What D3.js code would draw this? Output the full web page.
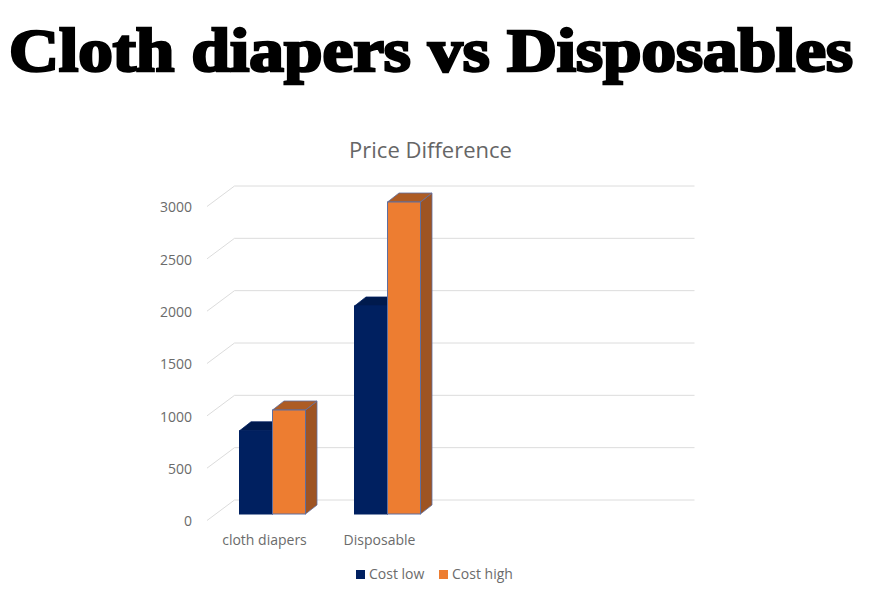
<!DOCTYPE html>
<html>
<head>
<meta charset="utf-8">
<script src="https://cdn.jsdelivr.net/npm/d3@7"></script>
<style>
  html, body { margin: 0; padding: 0; background: #fff; }
  svg { display: block; }
  text { font-family: "Open Sans", sans-serif; fill: #6b6b6b; }
</style>
</head>
<body>
<svg id="chart" width="869" height="592"></svg>
<script>
var categories = ["cloth diapers", "Disposable"];
var seriesNames = ["Cost low", "Cost high"];
var costLow = [800, 2000];
var costHigh = [1000, 3000];
var yTicks = [0, 500, 1000, 1500, 2000, 2500, 3000];

var colours = {
  "Cost low": { front: "#002060", top: "#001a4d", side: "#001a4d", edge: "#002060" },
  "Cost high": { front: "#ed7d31", top: "#ad5c25", side: "#9e5423", edge: "#5f6f9f" }
};

var svg = d3.select("#chart");

// front edge of the floor, the walls sit depth px behind it
var left = 207, floorWidth = 460;
var depthX = 27.5, depthY = 20.5;
var barDepthX = 11.5, barDepthY = 9;

var y = d3.scaleLinear().domain([0, 3000]).range([520.5, 206.5]);
var yBar = d3.scaleLinear().domain([0, 3000]).range([514, 202]);

// two of the four category slots are filled, the rest of the floor stays empty
var x = d3.scaleBand().domain(categories).range([left, left + floorWidth / 2]);
var xSeries = d3.scaleBand().domain(seriesNames).range([0, 66]);

svg.append("text")
  .attr("x", 9)
  .attr("y", 71)
  .attr("textLength", 844)
  .attr("lengthAdjust", "spacingAndGlyphs")
  .style("font-family", "'Liberation Serif', serif")
  .style("font-weight", "bold")
  .style("font-size", "61px")
  .style("fill", "#000")
  .style("stroke", "#000")
  .style("stroke-width", "2.6px")
  .text("Cloth diapers vs Disposables");

svg.append("text")
  .attr("x", 430.5)
  .attr("y", 158)
  .attr("text-anchor", "middle")
  .style("font-size", "22px")
  .style("fill", "#666")
  .text("Price Difference");

// gridlines: a diagonal on the side wall and a long line on the back wall
var grid = svg.append("g").attr("fill", "none").attr("stroke", "#dcdcdc").attr("stroke-width", 1);
grid.selectAll("path")
  .data(yTicks)
  .join("path")
  .attr("d", function (d) {
    var p = d3.path();
    p.moveTo(left, y(d));
    p.lineTo(left + depthX, y(d) - depthY);
    p.lineTo(left + depthX + floorWidth, y(d) - depthY);
    return p.toString();
  });

var yAxis = svg.append("g")
  .attr("transform", "translate(192,1)")
  .call(d3.axisLeft(y).tickValues(yTicks).tickSize(0).tickPadding(0).tickFormat(d3.format("d")));
yAxis.select(".domain").remove();
yAxis.selectAll("text").style("font-size", "14px").style("fill", "#6b6b6b");

function poly(points) {
  return points.map(function (p) { return p.join(","); }).join(" ");
}

var bars = [];
categories.forEach(function (c, i) {
  bars.push({ category: c, series: "Cost low", value: costLow[i] });
  bars.push({ category: c, series: "Cost high", value: costHigh[i] });
});

var barG = svg.append("g").selectAll("g")
  .data(bars)
  .join("g")
  .attr("transform", function (d) {
    var start = x(d.category) + (x.bandwidth() - 66) / 2 + 8;
    return "translate(" + (start + xSeries(d.series)) + ",0)";
  });

var w = xSeries.bandwidth();

barG.append("polygon")
  .attr("fill", function (d) { return colours[d.series].side; })
  .attr("stroke", function (d) { return colours[d.series].edge; })
  .attr("stroke-width", 0.8)
  .attr("points", function (d) {
    return poly([[w, yBar(d.value)], [w + barDepthX, yBar(d.value) - barDepthY], [w + barDepthX, yBar(0) - barDepthY], [w, yBar(0)]]);
  });

barG.append("polygon")
  .attr("fill", function (d) { return colours[d.series].top; })
  .attr("stroke", function (d) { return colours[d.series].edge; })
  .attr("stroke-width", 0.8)
  .attr("points", function (d) {
    return poly([[0, yBar(d.value)], [barDepthX, yBar(d.value) - barDepthY], [w + barDepthX, yBar(d.value) - barDepthY], [w, yBar(d.value)]]);
  });

barG.append("rect")
  .attr("width", w)
  .attr("y", function (d) { return yBar(d.value); })
  .attr("height", function (d) { return yBar(0) - yBar(d.value); })
  .attr("fill", function (d) { return colours[d.series].front; })
  .attr("stroke", function (d) { return colours[d.series].edge; })
  .attr("stroke-width", 1);

svg.append("g").selectAll("text")
  .data(categories)
  .join("text")
  .attr("x", function (d) { return x(d) + x.bandwidth() / 2; })
  .attr("y", 545)
  .attr("text-anchor", "middle")
  .style("font-size", "14px")
  .text(function (d) { return d; });

var legendX = { "Cost low": 356, "Cost high": 439 };
var legend = svg.append("g").selectAll("g")
  .data(seriesNames)
  .join("g")
  .attr("transform", function (d) { return "translate(" + legendX[d] + ",570)"; });
legend.append("rect")
  .attr("width", 9)
  .attr("height", 9)
  .attr("fill", function (d) { return colours[d].front; });
legend.append("text")
  .attr("x", 13)
  .attr("y", 9)
  .style("font-size", "14px")
  .text(function (d) { return d; });
</script>
</body>
</html>
